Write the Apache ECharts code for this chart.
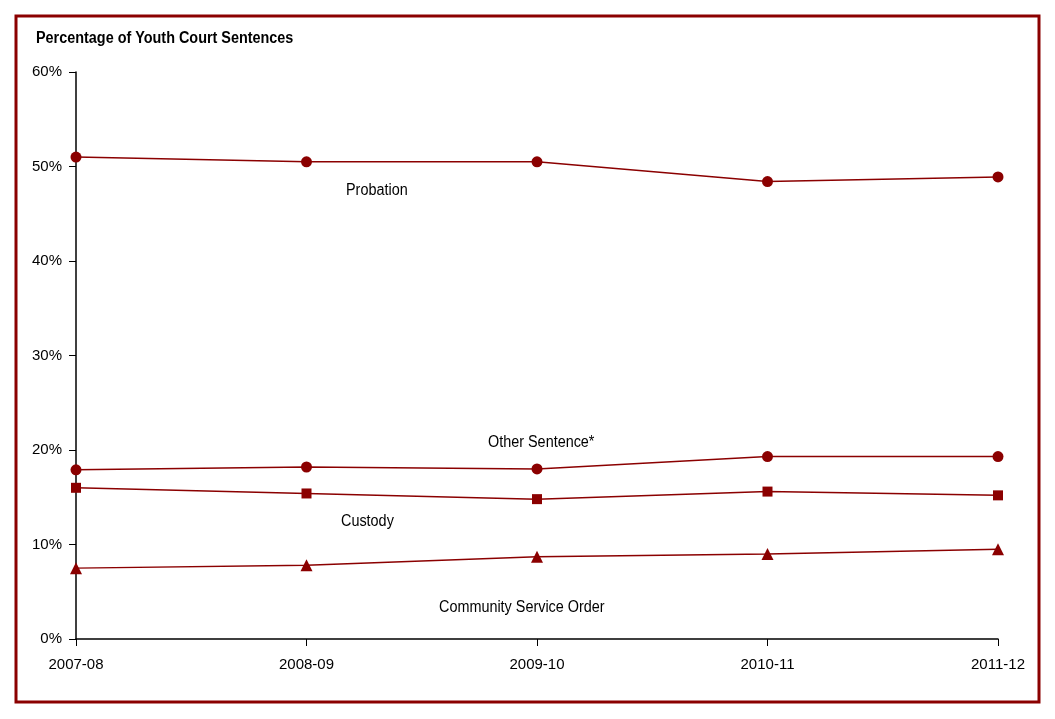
<!DOCTYPE html>
<html>
<head>
<meta charset="utf-8">
<script src="https://cdn.jsdelivr.net/npm/echarts@6/dist/echarts.min.js"></script>
<style>
  html, body { margin: 0; padding: 0; background: #fff; }
  #chart { width: 1055px; height: 719px; }
</style>
</head>
<body>
<div id="chart"></div>
<script>
var years = ['2007-08', '2008-09', '2009-10', '2010-11', '2011-12'];
var probation = [51.0, 50.5, 50.5, 48.4, 48.9];
var otherSentence = [17.9, 18.2, 18.0, 19.3, 19.3];
var custody = [16.0, 15.4, 14.8, 15.6, 15.2];
var communityService = [7.5, 7.8, 8.7, 9.0, 9.5];
var yTicks = [0, 10, 20, 30, 40, 50, 60];

var red = '#8b0000';
var font = '"Liberation Sans", Arial, sans-serif';

function line(name, data, symbol, size) {
    return {
        name: name,
        type: 'line',
        data: data,
        symbol: symbol,
        symbolSize: size,
        lineStyle: { color: red, width: 1.5 },
        itemStyle: { color: red },
        animation: false
    };
}

// series names written straight onto the plot, narrowed a bit like the original
function note(text, x, y) {
    return { type: 'text', left: x, top: y, scaleX: 0.9,
             style: { text: text, font: '16px ' + font, fill: '#000' } };
}

var myChart = echarts.init(document.getElementById('chart'));
var option = {
    backgroundColor: '#fff',
    grid: { left: 76, right: 57, top: 72, bottom: 80 },
    xAxis: {
        type: 'category',
        data: years,
        boundaryGap: false,
        axisLine: { lineStyle: { color: '#000', width: 1.5 } },
        axisTick: { show: true, length: 7, alignWithLabel: true, lineStyle: { color: '#000' } },
        axisLabel: { color: '#000', fontFamily: font, fontSize: 15, margin: 18 }
    },
    yAxis: {
        type: 'value',
        min: yTicks[0],
        max: yTicks[yTicks.length - 1],
        interval: 10,
        splitLine: { show: false },
        axisLine: { show: true, lineStyle: { color: '#000', width: 1.5 } },
        axisTick: { show: true, length: 7, lineStyle: { color: '#000' } },
        axisLabel: { color: '#000', fontFamily: font, fontSize: 15, margin: 14, formatter: '{value}%' }
    },
    series: [
        line('Probation', probation, 'circle', 11),
        line('Other Sentence*', otherSentence, 'circle', 11),
        line('Custody', custody, 'rect', 10),
        line('Community Service Order', communityService, 'triangle', 12)
    ],
    graphic: [
        { type: 'rect', shape: { x: 16, y: 16, width: 1023, height: 686 },
          style: { fill: 'none', stroke: red, lineWidth: 3 } },
        { type: 'text', left: 36, top: 31, scaleX: 0.9,
          style: { text: 'Percentage of Youth Court Sentences', font: 'bold 16px ' + font, fill: '#000' } },
        note('Probation', 346, 183),
        note('Other Sentence*', 488, 435),
        note('Custody', 341, 514),
        note('Community Service Order', 439, 600)
    ]
};
myChart.setOption(option);
</script>
</body>
</html>
